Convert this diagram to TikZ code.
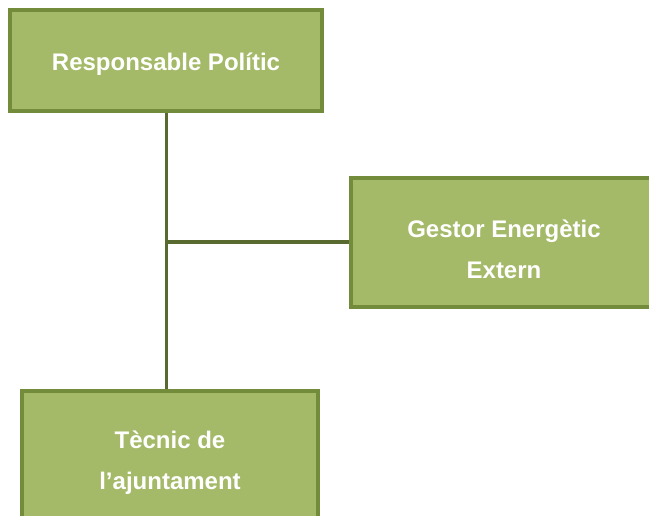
\documentclass[tikz,border=0pt]{standalone}
\usepackage{fontspec}
\setmainfont{Liberation Sans}
\definecolor{boxfill}{RGB}{164,186,104}
\definecolor{boxline}{RGB}{114,140,60}
\definecolor{conn}{RGB}{88,106,48}
\newcommand{\twolines}[2]{\begin{tabular}[t]{@{}c@{}}#1\\#2\end{tabular}}
\begin{document}
\begin{tikzpicture}[x=1pt,y=-1pt,
  orgbox/.style={draw=boxline, fill=boxfill, line width=3.5pt, rectangle, inner sep=0pt,
    text=white, font=\fontsize{24}{41}\selectfont\bfseries},
  link/.style={draw=conn, line width=3.8pt}]
\useasboundingbox (0,0) rectangle (649,515);
\clip (0,0) rectangle (649,515);
\node[orgbox, minimum width=312pt, minimum height=101pt, text height=19pt, text depth=0pt] (rp) at (166,60.5) {Responsable Polític};
\node[orgbox, minimum width=306pt, minimum height=129pt, text height=0pt, text depth=11pt] (ge) at (504,242.5) {\twolines{Gestor Energètic}{Extern}};
\node[orgbox, minimum width=296pt, minimum height=136pt, text height=0pt, text depth=22pt] (ta) at (170,459) {\twolines{Tècnic de}{l’ajuntament}};
\coordinate (j) at (166.5,242);
\draw[link] (rp.south -| j) -- (ta.north -| j);
\draw[link] (j) -- (ge.west |- j);
\end{tikzpicture}
\end{document}
